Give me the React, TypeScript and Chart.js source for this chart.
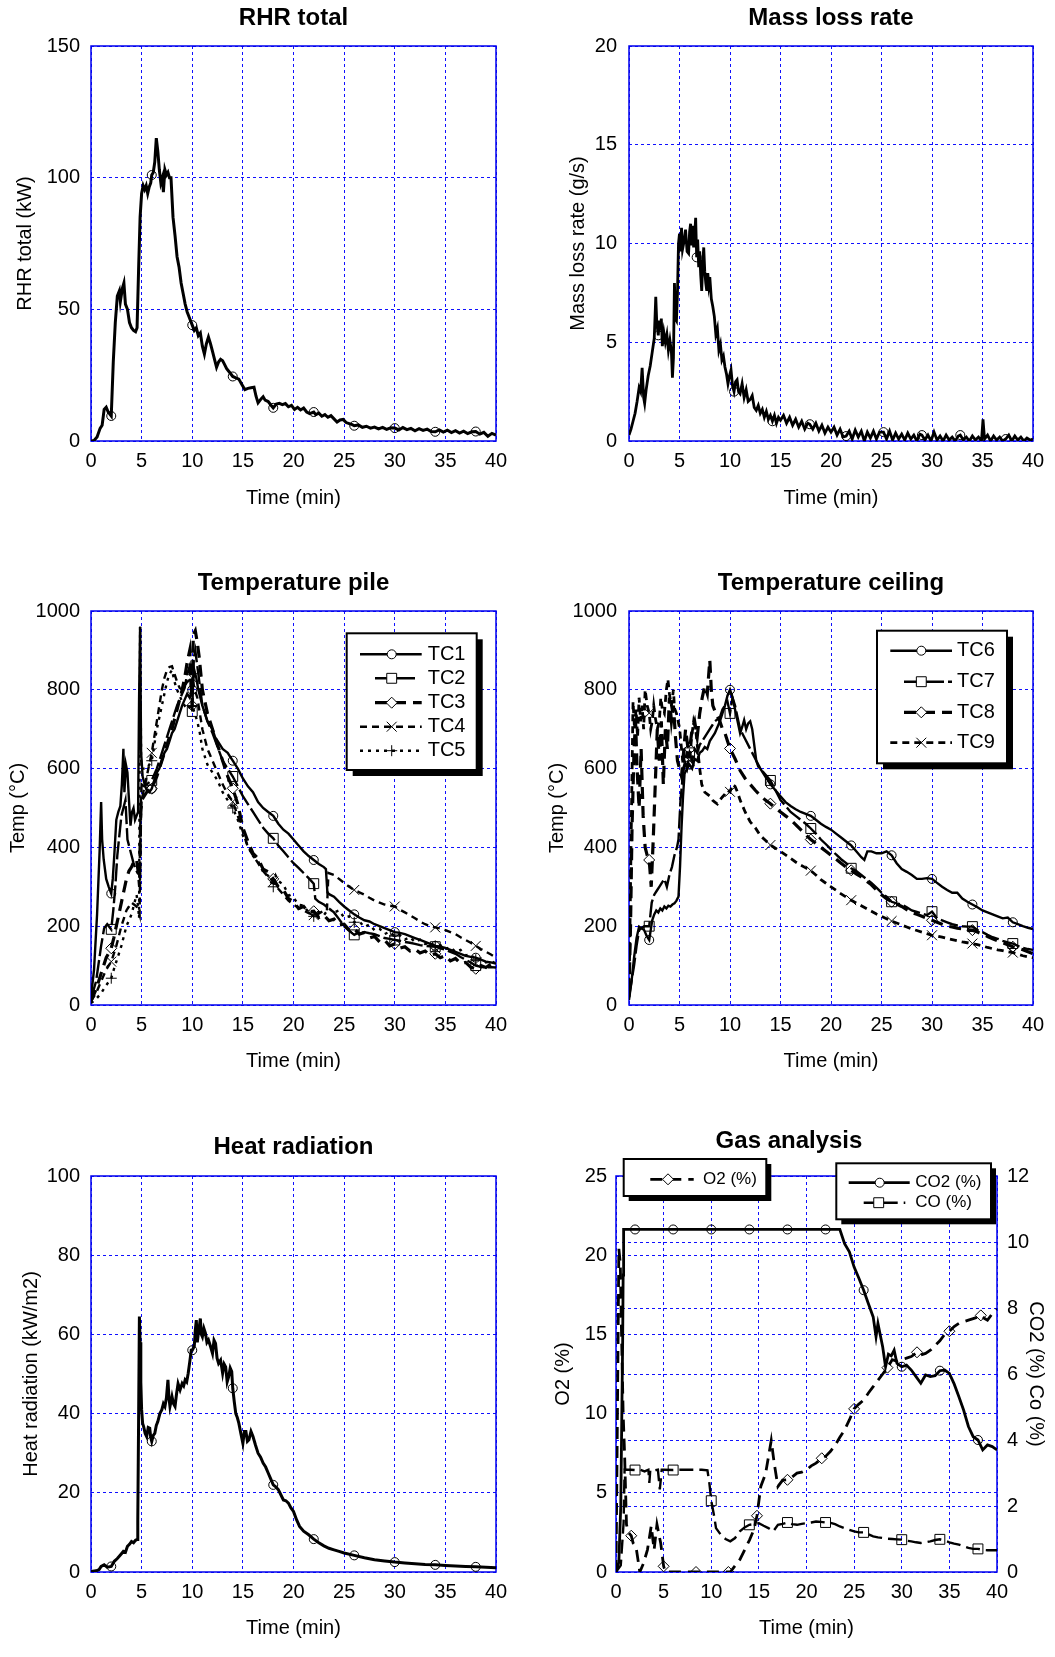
import React, { useEffect, useRef } from "react";
import { Chart, registerables } from "chart.js";
Chart.register(...registerables);

type P = [number, number];

const FONT = "'Liberation Sans', Arial, Helvetica, sans-serif";
const GRID = "#1010ff";

// ---------- tick values ----------
const TIME_TICKS = [0, 5, 10, 15, 20, 25, 30, 35, 40];
const RHR_TICKS = [0, 50, 100, 150];
const MLR_TICKS = [0, 5, 10, 15, 20];
const TEMP_TICKS = [0, 200, 400, 600, 800, 1000];
const HR_TICKS = [0, 20, 40, 60, 80, 100];
const O2_TICKS = [0, 5, 10, 15, 20, 25];
const CO2_TICKS = [0, 2, 4, 6, 8, 10, 12];

// ---------- marker times ----------
const MARKS_4MIN = [2, 6, 10, 14, 18, 22, 26, 30, 34, 38];
const MLR_MARKS = [2.9, 6.7, 10.4, 14.2, 17.9, 21.5, 25.2, 29, 32.8, 37.3];
const O2_MARKS = [1.6, 5, 8.4, 11.8, 14.8, 18, 21.6, 25, 28.5, 31.6, 35, 38.3];

// ---------- RHR total (kW) ----------
const RHR: P[] = [[0,0],[0.3,0.2],[0.6,1.5],[0.9,4.8],[1.1,6],[1.3,12],[1.5,12.8],[1.7,11],[2,9.5],[2.2,30],[2.4,45],[2.6,55],[2.8,57],[2.9,53],[3.1,58],[3.25,60],[3.4,52],[3.6,50],[3.8,45],[4,43],[4.2,42],[4.4,41.5],[4.55,43],[4.7,65],[4.85,85],[5,94],[5.15,97],[5.3,95.5],[5.45,97],[5.6,94],[5.75,96.5],[5.9,98],[6,101],[6.15,102],[6.3,106],[6.45,115],[6.6,110],[6.75,103],[6.9,98],[7.05,100],[7.15,94.5],[7.3,103],[7.45,101],[7.6,102],[7.75,100],[7.9,100],[8.1,85],[8.3,78],[8.5,70],[8.7,66],[8.9,60],[9.1,56],[9.3,52],[9.5,49],[9.7,47],[10,44],[10.2,42],[10.4,43],[10.6,40],[10.8,41],[11,36],[11.2,33],[11.4,37],[11.6,39.5],[11.8,37],[12,34],[12.2,31],[12.4,28],[12.6,30],[12.8,31],[13,30.5],[13.2,29],[13.4,27.5],[13.7,26],[14,24.5],[14.3,24],[14.6,23.5],[14.9,21.5],[15.2,19.5],[15.5,20],[15.8,20.2],[16.1,20.4],[16.3,17],[16.5,14.5],[16.8,16],[17,16.8],[17.2,15.5],[17.5,15],[17.8,13.5],[18,12.6],[18.3,14],[18.6,14.3],[18.9,13.8],[19.2,14.2],[19.5,13],[19.8,13.5],[20.1,12],[20.4,12.8],[20.7,11.8],[21,12.5],[21.3,11],[21.6,10.4],[22,11],[22.2,10],[22.5,10.6],[22.8,9.4],[23.1,10],[23.4,9],[23.7,9.6],[24,8.4],[24.3,7.2],[24.6,8],[24.9,8.2],[25.2,7],[25.5,6.6],[25.8,6.2],[26,5.8],[26.4,6.1],[26.8,5.2],[27.2,5.6],[27.6,4.9],[28,5.3],[28.4,4.6],[28.8,5.2],[29.2,4.4],[29.6,5],[30,4.9],[30.4,4.2],[30.8,5.1],[31.2,4.3],[31.6,4.8],[32,3.9],[32.4,4.7],[32.8,4],[33.2,4.5],[33.6,3.6],[34,3.5],[34.4,4.2],[34.8,3.4],[35.2,4.1],[35.6,3.2],[36,3.9],[36.4,3],[36.8,3.7],[37.2,2.8],[37.6,3.5],[38,3.6],[38.4,2.6],[38.8,3.3],[39.2,1.8],[39.6,2.9],[40,2.2]];

// ---------- Mass loss rate (g/s) ----------
const MLR: P[] = [[0,0.3],[0.2,0.6],[0.4,1.0],[0.6,1.4],[0.8,2.0],[1,2.7],[1.15,2.5],[1.3,3.7],[1.45,2.2],[1.55,1.9],[1.7,2.6],[1.9,3.3],[2.1,3.8],[2.3,4.5],[2.5,5.2],[2.65,7.3],[2.75,6.0],[2.9,5.35],[3.0,6.1],[3.1,5.6],[3.2,6.2],[3.3,4.8],[3.45,5.5],[3.6,5.0],[3.75,5.4],[3.9,4.6],[4.05,5.1],[4.2,4.5],[4.3,3.2],[4.4,4.2],[4.5,8.0],[4.6,6.2],[4.7,6.1],[4.8,7.5],[4.9,10.0],[5.0,10.5],[5.1,9.6],[5.2,10.8],[5.3,9.7],[5.45,10.1],[5.6,10.7],[5.75,9.6],[5.9,9.5],[6.0,10.6],[6.1,11.0],[6.2,9.9],[6.3,10.9],[6.4,9.8],[6.5,10.4],[6.6,11.3],[6.7,9.3],[6.8,10.2],[6.9,8.8],[7.0,9.6],[7.1,8.4],[7.2,7.6],[7.3,9.0],[7.4,9.8],[7.5,8.6],[7.6,8.0],[7.7,7.6],[7.8,8.5],[7.9,7.9],[8.0,8.3],[8.15,7.2],[8.3,6.8],[8.45,6.3],[8.6,5.4],[8.75,5.7],[8.9,4.6],[9.05,4.9],[9.2,4.1],[9.35,4.3],[9.5,3.75],[9.65,3.4],[9.8,2.9],[9.95,3.3],[10.1,3.6],[10.25,2.8],[10.4,2.5],[10.55,3.0],[10.7,3.1],[10.85,2.5],[11,2.4],[11.2,2.9],[11.4,2.2],[11.6,2.6],[11.8,2.0],[12,2.1],[12.2,2.3],[12.4,1.7],[12.6,1.55],[12.8,1.8],[13,1.4],[13.2,1.6],[13.4,1.2],[13.6,1.5],[13.8,1.1],[14,1.3],[14.2,1.0],[14.4,1.3],[14.6,0.9],[14.8,1.2],[15,1.05],[15.3,1.3],[15.6,0.9],[15.9,1.2],[16.2,0.8],[16.5,1.1],[16.8,0.7],[17.1,1.0],[17.4,0.6],[17.7,0.9],[17.9,0.85],[18.2,0.6],[18.5,0.9],[18.8,0.5],[19.1,0.8],[19.4,0.4],[19.7,0.7],[20,0.45],[20.3,0.7],[20.6,0.3],[20.9,0.6],[21.2,0.2],[21.5,0.25],[21.8,0.5],[22.1,0.1],[22.4,0.55],[22.7,0.2],[23,0.5],[23.3,0.0],[23.6,0.45],[23.9,0.15],[24.2,0.5],[24.5,0.1],[24.8,0.45],[25.2,0.45],[25.5,0.1],[25.8,0.5],[26.1,0.05],[26.4,0.4],[26.7,0.1],[27,0.35],[27.3,0.05],[27.6,0.4],[27.9,0.1],[28.2,0.3],[28.5,0.0],[28.8,0.35],[29,0.3],[29.3,0.05],[29.6,0.3],[29.9,0.0],[30.2,0.45],[30.5,0.05],[30.8,0.25],[31.1,0.0],[31.4,0.3],[31.7,0.05],[32,0.2],[32.3,0.0],[32.6,0.25],[32.8,0.3],[33.1,0.05],[33.4,0.2],[33.7,0.0],[34,0.25],[34.3,0.05],[34.6,0.2],[34.9,0.0],[35.05,1.1],[35.2,0.1],[35.5,0.3],[35.8,0.0],[36.1,0.25],[36.4,0.05],[36.7,0.2],[37,0.0],[37.3,0.1],[37.6,0.3],[37.9,0.0],[38.2,0.25],[38.5,0.05],[38.8,0.2],[39.1,0.0],[39.4,0.15],[39.7,0.05],[40,0.1]];

// ---------- Temperature pile (°C) ----------
const TC1: P[] = [[0,20],[0.3,90],[0.6,230],[0.85,390],[1.0,515],[1.1,420],[1.25,370],[1.5,320],[1.75,300],[2,283],[2.15,320],[2.3,380],[2.5,470],[2.7,490],[2.9,505],[3.05,560],[3.2,650],[3.3,540],[3.45,610],[3.6,590],[3.75,520],[3.9,455],[4.05,490],[4.2,500],[4.35,470],[4.5,480],[4.65,490],[4.75,780],[4.85,960],[4.95,640],[5.1,580],[5.3,560],[5.5,545],[5.75,540],[6,549],[6.25,570],[6.5,590],[6.75,600],[7,620],[7.25,640],[7.5,650],[7.75,670],[8,690],[8.25,700],[8.5,720],[8.75,740],[9,760],[9.25,775],[9.5,790],[9.75,780],[10,800],[10.2,850],[10.4,830],[10.6,800],[10.8,780],[11,760],[11.25,740],[11.5,720],[11.75,710],[12,700],[12.25,680],[12.5,670],[12.75,660],[13,650],[13.25,645],[13.5,640],[13.75,630],[14,620],[14.5,600],[15,575],[15.5,555],[16,540],[16.5,515],[17,500],[17.5,490],[18,480],[18.5,460],[19,445],[19.5,435],[20,420],[20.5,405],[21,390],[21.5,378],[22,368],[22.5,358],[23,350],[23.2,345],[23.35,285],[23.6,280],[24,275],[24.5,262],[25,250],[25.5,240],[26,230],[26.5,222],[27,215],[27.5,212],[28,205],[28.5,200],[29,195],[29.5,190],[30,185],[30.5,183],[31,180],[31.5,175],[32,170],[32.5,165],[33,160],[33.5,155],[34,150],[34.5,148],[35,145],[35.5,140],[36,135],[36.5,130],[37,125],[37.5,122],[38,120],[38.5,115],[39,110],[39.5,108],[40,105]];
const TC2: P[] = [[0,15],[0.5,60],[1,150],[1.3,195],[1.6,205],[2,192],[2.2,240],[2.4,300],[2.6,380],[2.8,430],[3,480],[3.2,500],[3.4,520],[3.6,420],[3.8,400],[4,380],[4.2,360],[4.4,345],[4.6,335],[4.8,330],[4.9,500],[5,560],[5.25,555],[5.5,560],[5.75,565],[6,570],[6.25,585],[6.5,600],[6.75,620],[7,640],[7.25,660],[7.5,680],[7.75,700],[8,720],[8.25,740],[8.5,760],[8.75,775],[9,790],[9.25,805],[9.5,840],[9.75,860],[10,745],[10.15,880],[10.3,900],[10.5,860],[10.7,820],[11,760],[11.5,720],[12,690],[12.5,655],[13,620],[13.5,600],[14,580],[14.5,555],[15,530],[15.5,510],[16,490],[16.5,470],[17,450],[17.5,435],[18,423],[18.5,405],[19,390],[19.5,375],[20,360],[20.5,348],[21,335],[21.5,322],[22,308],[22.15,270],[22.5,262],[23,255],[23.5,245],[24,235],[24.5,218],[25,200],[25.5,188],[26,178],[26.5,185],[27,185],[27.5,182],[28,180],[28.5,175],[29,170],[29.5,168],[30,165],[30.5,163],[31,160],[31.5,158],[32,155],[32.5,152],[33,150],[33.5,149],[34,148],[34.5,144],[35,140],[35.5,135],[36,130],[36.5,122],[37,115],[37.5,108],[38,100],[38.5,97],[39,95],[39.5,96],[40,95]];
const TC3: P[] = [[0,10],[0.5,40],[1,80],[1.5,120],[2,144],[2.25,170],[2.5,200],[2.75,230],[3,260],[3.25,290],[3.5,320],[3.75,340],[4,350],[4.25,365],[4.5,370],[4.7,330],[4.8,300],[4.9,480],[5,520],[5.25,530],[5.5,540],[5.75,545],[6,549],[6.25,565],[6.5,580],[6.75,600],[7,620],[7.25,640],[7.5,660],[7.75,680],[8,700],[8.25,725],[8.5,750],[8.75,775],[9,800],[9.25,830],[9.5,870],[9.75,900],[10,760],[10.1,940],[10.3,950],[10.5,920],[10.7,880],[11,800],[11.25,770],[11.5,740],[11.75,720],[12,700],[12.5,660],[13,620],[13.5,580],[14,550],[14.5,510],[15,450],[15.5,415],[16,385],[16.5,372],[17,345],[17.5,338],[18,320],[18.5,300],[19,292],[19.5,270],[20,262],[20.5,245],[21,250],[21.5,236],[22,238],[22.5,222],[23,228],[23.5,214],[24,218],[24.5,203],[25,205],[25.5,190],[26,193],[26.5,180],[27,184],[27.5,170],[28,174],[28.5,160],[29,165],[29.5,150],[30,155],[30.5,144],[31,148],[31.5,137],[32,142],[32.5,132],[33,137],[33.5,126],[34,130],[34.5,120],[35,125],[35.5,112],[36,118],[36.5,105],[37,108],[37.5,96],[38,92],[38.5,100],[39,95],[39.5,104],[40,98]];
const TC4: P[] = [[0,10],[0.5,30],[1,60],[1.5,90],[2,110],[2.25,130],[2.5,150],[2.75,175],[3,200],[3.25,220],[3.5,240],[3.75,250],[4,260],[4.25,255],[4.5,250],[4.7,240],[4.8,230],[4.9,450],[5,520],[5.25,550],[5.5,580],[5.75,610],[6,640],[6.25,680],[6.5,720],[6.75,760],[7,800],[7.25,830],[7.5,850],[7.75,858],[8,860],[8.25,840],[8.5,820],[8.75,805],[9,800],[9.25,810],[9.5,820],[9.75,825],[10,830],[10.25,800],[10.5,780],[10.75,740],[11,700],[11.25,675],[11.5,650],[11.75,635],[12,620],[12.5,590],[13,560],[13.5,535],[14,516],[14.5,480],[15,440],[15.5,400],[16,380],[16.5,360],[17,340],[17.5,325],[18,313],[18.5,295],[19,280],[19.5,265],[20,255],[20.5,247],[21,240],[21.5,233],[22,228],[22.5,232],[23,240],[23.3,240],[23.45,335],[24,330],[24.5,320],[25,310],[25.5,300],[26,292],[26.5,286],[27,280],[27.5,272],[28,265],[28.5,260],[29,255],[29.5,252],[30,250],[30.5,242],[31,235],[31.5,228],[32,220],[32.5,212],[33,205],[33.5,200],[34,197],[34.5,194],[35,190],[35.5,185],[36,180],[36.5,172],[37,165],[37.5,158],[38,150],[38.5,142],[39,135],[39.5,128],[40,120]];
const TC5: P[] = [[0,5],[0.5,15],[1,30],[1.5,50],[2,68],[2.25,90],[2.5,110],[2.75,130],[3,150],[3.25,175],[3.5,200],[3.75,215],[4,230],[4.25,255],[4.5,280],[4.65,250],[4.75,220],[4.85,960],[4.95,620],[5.1,600],[5.5,600],[6,620],[6.25,660],[6.5,700],[6.75,730],[7,760],[7.25,790],[7.5,820],[7.75,840],[8,850],[8.25,820],[8.5,800],[8.75,785],[9,770],[9.25,760],[9.5,750],[9.75,755],[10,760],[10.25,740],[10.5,720],[10.75,690],[11,650],[11.25,630],[11.5,610],[11.75,600],[12,590],[12.5,570],[13,540],[13.5,520],[14,500],[14.5,470],[15,430],[15.5,405],[16,378],[16.5,365],[17,338],[17.5,328],[18,300],[18.25,328],[18.5,315],[19,305],[19.5,280],[20,272],[20.5,255],[21,252],[21.5,235],[22,225],[22.5,236],[23,228],[23.5,245],[24,235],[24.5,240],[25,222],[25.5,225],[26,210],[26.5,212],[27,198],[27.5,204],[28,190],[28.5,194],[29,180],[29.5,186],[30,175],[30.5,178],[31,166],[31.5,172],[32,160],[32.5,166],[33,155],[33.5,158],[34,150],[34.5,152],[35,142],[35.5,147],[36,135],[36.5,140],[37,126],[37.5,128],[38,115],[38.5,118],[39,108],[39.5,112],[40,105]];

// ---------- Temperature ceiling (°C) ----------
const TC6: P[] = [[0,13],[0.25,60],[0.5,120],[0.75,170],[1,199],[1.25,195],[1.5,190],[1.75,175],[2,165],[2.15,190],[2.3,215],[2.5,230],[2.7,240],[2.9,235],[3.1,245],[3.3,240],[3.5,250],[3.7,245],[3.9,252],[4.1,250],[4.3,255],[4.5,258],[4.7,265],[4.9,275],[5.05,350],[5.2,450],[5.35,530],[5.5,587],[5.75,600],[6,610],[6.25,600],[6.5,625],[6.75,620],[7,640],[7.25,645],[7.5,655],[7.75,650],[8,670],[8.25,680],[8.5,690],[8.75,705],[9,720],[9.25,740],[9.5,760],[9.75,785],[10,800],[10.25,780],[10.5,750],[10.75,720],[11,690],[11.2,705],[11.4,723],[11.6,700],[11.8,715],[12,720],[12.2,700],[12.4,660],[12.6,620],[12.8,605],[13,600],[13.25,590],[13.5,580],[13.75,570],[14,560],[14.5,545],[15,530],[15.5,515],[16,505],[16.5,497],[17,490],[17.5,485],[18,480],[18.5,470],[19,460],[19.5,452],[20,445],[20.5,435],[21,425],[21.5,415],[22,405],[22.5,390],[23,375],[23.3,368],[23.6,390],[24,390],[24.5,385],[25,385],[25.5,390],[26,380],[26.5,360],[27,345],[27.5,338],[28,330],[28.5,320],[29,320],[29.5,322],[30,320],[30.5,310],[31,300],[31.5,292],[32,285],[32.5,285],[33,270],[33.5,262],[34,255],[34.5,248],[35,240],[35.5,235],[36,230],[36.5,225],[37,220],[37.5,222],[38,210],[38.5,205],[39,200],[39.5,196],[40,193]];
const TC7: P[] = [[0,20],[0.25,60],[0.5,100],[0.75,150],[1,190],[1.5,200],[2,200],[2.25,260],[2.5,280],[2.75,290],[3,300],[3.25,310],[3.5,320],[3.75,300],[4,330],[4.25,350],[4.5,380],[4.75,400],[4.9,420],[5.1,520],[5.25,560],[5.5,620],[5.75,600],[6,640],[6.25,620],[6.5,650],[6.75,640],[7,660],[7.25,670],[7.5,680],[7.75,690],[8,700],[8.25,710],[8.5,720],[8.75,725],[9,730],[9.25,750],[9.5,760],[9.75,770],[10,740],[10.25,780],[10.5,760],[10.75,730],[11,700],[11.5,675],[12,650],[12.5,625],[13,600],[13.5,585],[14,570],[14.5,545],[15,520],[15.5,505],[16,490],[16.5,480],[17,470],[17.5,460],[18,448],[18.5,435],[19,420],[19.5,408],[20,395],[20.5,382],[21,370],[21.5,360],[22,347],[22.5,340],[23,330],[23.5,320],[24,310],[24.5,298],[25,285],[25.5,275],[26,262],[26.5,258],[27,255],[27.5,248],[28,240],[28.5,236],[29,232],[29.5,228],[30,237],[30.5,220],[31,215],[31.5,210],[32,205],[32.5,202],[33,200],[33.5,199],[34,199],[34.5,190],[35,185],[35.5,178],[36,172],[36.5,168],[37,163],[37.5,159],[38,156],[38.5,150],[39,145],[39.5,142],[40,140]];
const TC8: P[] = [[0,30],[0.15,200],[0.3,450],[0.5,650],[0.65,720],[0.8,600],[1,500],[1.2,650],[1.4,480],[1.6,400],[1.8,380],[2,368],[2.2,300],[2.4,420],[2.6,560],[2.8,700],[3,620],[3.2,720],[3.4,560],[3.6,700],[3.8,650],[4,780],[4.2,720],[4.4,760],[4.6,680],[4.8,620],[5,600],[5.2,580],[5.4,640],[5.6,700],[5.8,660],[6,650],[6.25,700],[6.5,720],[6.75,680],[7,740],[7.25,780],[7.5,810],[7.75,790],[8,875],[8.15,800],[8.3,760],[8.6,740],[9,720],[9.25,700],[9.5,690],[9.75,670],[10,651],[10.5,625],[11,595],[11.5,575],[12,560],[12.5,545],[13,532],[13.5,520],[14,511],[14.5,500],[15,490],[15.5,480],[16,470],[16.5,458],[17,445],[17.5,432],[18,420],[18.5,410],[19,400],[19.5,390],[20,380],[20.5,370],[21,360],[21.5,350],[22,342],[22.5,333],[23,325],[23.5,315],[24,305],[24.5,292],[25,280],[25.5,270],[26,262],[26.5,256],[27,250],[27.5,242],[28,235],[28.5,230],[29,225],[29.5,220],[30,215],[30.5,210],[31,205],[31.5,200],[32,198],[32.5,195],[33,193],[33.5,191],[34,190],[34.5,185],[35,180],[35.5,174],[36,168],[36.5,163],[37,158],[37.5,153],[38,148],[38.5,144],[39,140],[39.5,135],[40,130]];
const TC9: P[] = [[0,20],[0.1,200],[0.2,400],[0.4,770],[0.55,700],[0.7,750],[0.85,680],[1,780],[1.15,720],[1.3,760],[1.45,700],[1.6,800],[1.8,760],[2,741],[2.15,700],[2.3,720],[2.45,760],[2.6,730],[2.8,700],[3,720],[3.15,780],[3.3,750],[3.5,740],[3.7,800],[3.85,827],[4,790],[4.2,760],[4.4,800],[4.5,753],[4.7,740],[5,704],[5.2,650],[5.4,600],[5.6,620],[5.8,650],[6,620],[6.2,680],[6.4,720],[6.6,700],[6.8,650],[7,600],[7.2,560],[7.5,540],[7.75,535],[8,530],[8.25,520],[8.5,515],[8.75,510],[9,520],[9.25,528],[9.5,535],[9.75,545],[10,541],[10.25,560],[10.5,555],[10.75,540],[11,520],[11.5,490],[12,465],[12.5,450],[13,430],[13.5,418],[14,406],[14.5,398],[15,390],[15.5,381],[16,372],[16.5,363],[17,355],[17.5,348],[18,341],[18.5,330],[19,318],[19.5,309],[20,300],[20.5,291],[21,282],[21.5,274],[22,266],[22.5,259],[23,252],[23.5,245],[24,238],[24.5,231],[25,225],[25.5,219],[26,213],[26.5,208],[27,203],[27.5,198],[28,193],[28.5,189],[29,185],[29.5,181],[30,177],[30.5,175],[31,172],[31.5,169],[32,166],[32.5,163],[33,160],[33.5,158],[34,156],[34.5,153],[35,150],[35.5,146],[36,143],[36.5,140],[37,138],[37.5,135],[38,133],[38.5,129],[39,125],[39.5,122],[40,120]];

// ---------- Heat radiation (kW/m2) ----------
const HR: P[] = [[0,0.1],[0.5,0.3],[0.8,0.6],[1,1.4],[1.3,1.8],[1.6,1.2],[2,1.4],[2.3,2.7],[2.6,3.4],[2.9,4.3],[3.2,5.2],[3.4,5.0],[3.6,6.5],[3.8,7.0],[4,7.7],[4.2,7.4],[4.4,8.0],[4.55,8.2],[4.62,13],[4.7,38],[4.78,64.5],[4.85,58],[4.92,48],[5,41],[5.1,37.5],[5.2,36.7],[5.35,35],[5.5,34.2],[5.65,36.5],[5.8,36.3],[5.9,34],[6,33],[6.15,34.5],[6.3,35],[6.45,37],[6.6,38],[6.8,40],[7,41],[7.15,42.5],[7.3,41.8],[7.45,44],[7.6,48.5],[7.7,44],[7.8,41.8],[7.9,43],[8,44.3],[8.15,42.5],[8.3,41.8],[8.45,45],[8.6,47.6],[8.8,46],[9,47.6],[9.15,47],[9.3,48.5],[9.45,48],[9.6,50.2],[9.75,53],[9.9,56],[10,56],[10.2,57],[10.3,61],[10.4,63.6],[10.5,58],[10.6,60.3],[10.7,62],[10.8,64],[10.9,60],[11,59.4],[11.15,61.5],[11.3,60.3],[11.45,58],[11.6,58.6],[11.8,57],[12,55.2],[12.15,58.5],[12.3,57.7],[12.45,54],[12.6,52.7],[12.8,53.5],[13,50.2],[13.15,52.5],[13.3,51.8],[13.45,48],[13.6,49.3],[13.75,51.5],[13.9,50.6],[14,46.4],[14.15,43],[14.3,40],[14.45,39],[14.6,37.6],[14.8,35],[15,32.5],[15.15,35.5],[15.3,35.5],[15.45,33],[15.6,33.4],[15.8,35.5],[16,34.2],[16.25,32],[16.5,30],[16.75,29],[17,27.5],[17.25,26.5],[17.5,25],[17.75,23.5],[18,22],[18.25,21.5],[18.5,20.8],[18.75,19.5],[19,18.2],[19.25,18],[19.5,17.4],[19.75,16.2],[20,15.3],[20.3,13.2],[20.6,11.5],[21,10.3],[21.5,9.4],[22,8.3],[22.5,7.4],[23,6.6],[23.5,6.0],[24,5.6],[24.5,5.2],[25,4.8],[26,4.2],[27,3.6],[28,3.1],[29,2.8],[30,2.5],[31,2.3],[32,2.1],[33,1.9],[34,1.8],[35,1.65],[36,1.5],[37,1.4],[38,1.3],[39,1.2],[40,1.1]];

// ---------- Gas analysis ----------
const O2: P[] = [[0,0],[0.15,10],[0.3,20.4],[0.45,19.5],[0.55,16],[0.65,13],[0.75,10],[0.9,7.5],[1.1,3],[1.3,2.5],[1.6,2.29],[1.8,1.83],[2.1,1.6],[2.5,0],[2.9,0.57],[3.3,1.4],[3.7,2.9],[4,1.4],[4.3,3.0],[4.7,1.8],[5,0.36],[5.2,0],[8.4,0],[10,0],[11.8,0],[12,0],[13,0.78],[14,2.0],[14.5,2.7],[14.8,3.55],[15.2,5.4],[15.7,6.2],[16.3,8.3],[16.6,6.9],[17,5.4],[17.5,5.8],[18,5.82],[18.5,6.0],[19,6.24],[19.5,6.3],[20,6.45],[20.5,6.7],[21,6.87],[21.6,7.18],[22,7.3],[22.5,7.6],[23,8.0],[23.5,8.5],[24,8.97],[24.5,9.6],[25,10.3],[25.5,10.6],[26,10.86],[26.5,11.3],[27,11.7],[27.5,12.1],[28,12.5],[28.5,12.9],[29,13.4],[29.5,13.3],[30,13.4],[30.5,13.5],[31,13.6],[31.6,13.87],[32,13.7],[32.5,13.8],[33,14.0],[33.5,14.3],[34,14.6],[34.5,15.0],[35,15.2],[35.5,15.5],[36,15.7],[36.5,15.8],[37,15.9],[37.5,16.0],[38,16.1],[38.3,16.2],[38.7,16.0],[39,15.9],[39.5,16.3],[40,16.6]];
const CO2: P[] = [[0,0],[0.3,0.3],[0.5,2.0],[0.6,4.5],[0.7,7.0],[0.75,9.0],[0.8,10.38],[2,10.38],[6,10.38],[10,10.38],[14,10.38],[18,10.38],[22,10.38],[23.5,10.38],[24,9.95],[24.5,9.7],[25,9.24],[25.5,8.9],[26,8.54],[26.5,8.13],[27,7.73],[27.3,7.13],[27.5,7.53],[28,6.82],[28.3,6.22],[28.6,6.6],[28.9,6.55],[29.2,6.72],[29.5,6.32],[30,6.22],[30.5,6.27],[31,6.12],[31.5,5.92],[32,5.72],[32.5,5.97],[33,5.92],[33.5,5.95],[34,6.1],[34.5,6.12],[35,6.02],[35.5,5.7],[36,5.31],[36.5,4.9],[37,4.41],[37.5,4.1],[38,4.0],[38.5,3.7],[39,3.85],[39.5,3.8],[40,3.7]];
const CO: P[] = [[0,0],[0.5,0.2],[0.8,1.5],[0.9,3.1],[1.5,3.1],[2,3.09],[2.5,3.1],[3,3.05],[3.4,3.1],[3.5,2.7],[3.6,3.1],[4,3.08],[4.4,3.1],[4.6,2.5],[4.8,3.1],[5,3.1],[6,3.09],[7,3.1],[8,3.1],[9,3.1],[9.6,3.08],[9.8,2.7],[10,2.16],[10.3,1.7],[10.5,1.33],[11,1.13],[11.5,1.0],[12,0.93],[12.5,1.03],[13,1.23],[13.5,1.35],[14,1.43],[14.5,1.45],[15,1.48],[15.5,1.4],[16,1.33],[16.5,1.23],[17,1.43],[17.5,1.46],[18,1.5],[18.5,1.45],[19,1.43],[19.5,1.46],[20,1.48],[20.5,1.5],[21,1.53],[21.5,1.52],[22,1.5],[22.5,1.49],[23,1.45],[23.5,1.38],[24,1.33],[24.5,1.28],[25,1.23],[25.5,1.2],[26,1.2],[26.5,1.14],[27,1.08],[27.5,1.05],[28,1.03],[28.5,1.01],[29,1.0],[29.5,0.99],[30,0.98],[30.5,0.95],[31,0.93],[31.5,0.9],[32,0.88],[32.5,0.9],[33,0.93],[33.5,0.97],[34,0.99],[34.5,0.95],[35,0.9],[35.5,0.86],[36,0.83],[36.5,0.78],[37,0.73],[37.5,0.7],[38,0.7],[38.5,0.67],[39,0.66],[39.5,0.66],[40,0.66]];

// ---------- rendering ----------
interface DS { data: P[]; marks: number[]; axis?: string; width: number; dash: number[]; marker: string; r: number; }
interface LegItem { ds: number; label: string; y: number; x1: number; x2: number; mx: number; tx: number; }
interface Legend { rect: [number, number, number, number]; shadow: number; font: number; items: LegItem[]; }
interface Spec {
  box: [number, number, number, number];
  plot: [number, number, number, number];
  title: string; titleX?: number; titleY: number;
  xTitleY: number;
  yTitle: string; yTitleX: number; yTicks: number[]; yPad: number;
  y2?: { title: string; titleX: number; ticks: number[]; pad: number };
  datasets: DS[];
  legends?: Legend[];
}

function drawMarker(ctx: CanvasRenderingContext2D, style: string, x: number, y: number, r: number) {
  ctx.beginPath();
  if (style === "circle") ctx.arc(x, y, r, 0, Math.PI * 2);
  else if (style === "rect") { const h = r * Math.SQRT1_2; ctx.rect(x - h, y - h, 2 * h, 2 * h); }
  else if (style === "rectRot") { ctx.moveTo(x, y - r); ctx.lineTo(x + r, y); ctx.lineTo(x, y + r); ctx.lineTo(x - r, y); ctx.closePath(); }
  else if (style === "crossRot") { const h = r * Math.SQRT1_2; ctx.moveTo(x - h, y - h); ctx.lineTo(x + h, y + h); ctx.moveTo(x + h, y - h); ctx.lineTo(x - h, y + h); }
  else if (style === "cross") { ctx.moveTo(x - r, y); ctx.lineTo(x + r, y); ctx.moveTo(x, y - r); ctx.lineTo(x, y + r); }
  if (style !== "crossRot" && style !== "cross") { ctx.fillStyle = "#fff"; ctx.fill(); }
  ctx.setLineDash([]);
  ctx.lineWidth = 1;
  ctx.strokeStyle = "#000";
  ctx.stroke();
}

function buildChart(canvas: HTMLCanvasElement, s: Spec): Chart {
  const [cl, ct, cw, ch] = s.box;
  const [pl, pt, pr, pb] = s.plot;
  const leftW = pl - cl;
  const rightW = cl + cw - pr;
  const bottomH = ct + ch - pb;
  const tickFont = { family: FONT, size: 20 };
  const setTicks = (vals: number[]) => (sc: any) => { sc.ticks = vals.map((v) => ({ value: v })); };
  const plain = (v: any) => String(v);
  const grid = { color: GRID, lineWidth: 1, drawTicks: false };
  const border = { display: false, dash: [3, 3] };

  const scales: any = {
    x: {
      type: "linear", min: 0, max: 40,
      afterBuildTicks: setTicks(TIME_TICKS),
      ticks: { font: tickFont, color: "#000", padding: 8.5, maxRotation: 0, autoSkip: false, callback: plain },
      grid, border,
      title: { display: true, text: "Time (min)", color: "#000", font: { family: FONT, size: 20 }, padding: { top: 0, bottom: ct + ch - s.xTitleY - 12 } },
      afterFit: (sc: any) => { sc.height = bottomH; },
    },
    y: {
      type: "linear", position: "left", min: s.yTicks[0], max: s.yTicks[s.yTicks.length - 1],
      afterBuildTicks: setTicks(s.yTicks),
      ticks: { font: tickFont, color: "#000", padding: s.yPad, autoSkip: false, callback: plain },
      grid, border,
      title: { display: true, text: s.yTitle, color: "#000", font: { family: FONT, size: 20 }, padding: { top: s.yTitleX - cl - 12, bottom: 0 } },
      afterFit: (sc: any) => { sc.width = leftW; },
    },
  };
  if (s.y2) {
    const y2 = s.y2;
    scales.y2 = {
      type: "linear", position: "right", min: y2.ticks[0], max: y2.ticks[y2.ticks.length - 1],
      afterBuildTicks: setTicks(y2.ticks),
      ticks: { font: tickFont, color: "#000", padding: y2.pad, autoSkip: false, callback: plain },
      grid, border,
      title: { display: true, text: y2.title, color: "#000", font: { family: FONT, size: 20 }, padding: { top: cl + cw - y2.titleX - 12, bottom: 0 } },
      afterFit: (sc: any) => { sc.width = rightW; },
    };
  }

  const deco = {
    id: "deco",
    beforeDatasetsDraw(chart: any) {
      const { ctx, chartArea: a } = chart;
      ctx.save();
      ctx.setLineDash([]);
      ctx.strokeStyle = "#0000ee";
      ctx.lineWidth = 1.5;
      ctx.strokeRect(a.left, a.top, a.right - a.left, a.bottom - a.top);
      ctx.restore();
    },
    afterDraw(chart: any) {
      const { ctx, chartArea: a } = chart;
      ctx.save();
      ctx.fillStyle = "#000";
      ctx.font = `bold 24px ${FONT}`;
      ctx.textAlign = "center";
      ctx.textBaseline = "middle";
      const tx = s.titleX !== undefined ? s.titleX - cl : (a.left + a.right) / 2;
      ctx.fillText(s.title, tx, s.titleY - ct);
      for (const lg of s.legends || []) {
        const [lx, ly, lw, lh] = lg.rect;
        const x = lx - cl, y = ly - ct;
        ctx.setLineDash([]);
        ctx.fillStyle = "#000";
        ctx.fillRect(x + lg.shadow, y + lg.shadow, lw, lh);
        ctx.fillStyle = "#fff";
        ctx.fillRect(x, y, lw, lh);
        ctx.strokeStyle = "#000";
        ctx.lineWidth = 2;
        ctx.strokeRect(x, y, lw, lh);
        for (const it of lg.items) {
          const d = s.datasets[it.ds];
          const yy = it.y - ct;
          ctx.beginPath();
          ctx.setLineDash(d.dash);
          ctx.lineWidth = d.width;
          ctx.strokeStyle = "#000";
          ctx.moveTo(it.x1 - cl, yy);
          ctx.lineTo(it.x2 - cl, yy);
          ctx.stroke();
          drawMarker(ctx, d.marker, it.mx - cl, yy, d.r);
          ctx.fillStyle = "#000";
          ctx.font = `${lg.font}px ${FONT}`;
          ctx.textAlign = "left";
          ctx.textBaseline = "middle";
          ctx.fillText(it.label, it.tx - cl, yy);
        }
      }
      ctx.restore();
    },
  };

  return new Chart(canvas, {
    type: "line",
    data: {
      datasets: s.datasets.map((d) => ({
        data: d.data.map(([x, y]) => ({ x, y })),
        yAxisID: d.axis || "y",
        borderColor: "#000",
        borderWidth: d.width,
        borderDash: d.dash,
        tension: 0,
        fill: false,
        pointStyle: d.marker,
        pointRadius: (c: any) => (c.raw && d.marks.includes(c.raw.x) ? d.r : 0),
        pointBorderColor: "#000",
        pointBorderWidth: 1,
        pointBackgroundColor: "rgba(0,0,0,0)",
      })),
    } as any,
    options: {
      animation: false,
      responsive: false,
      devicePixelRatio: 1,
      events: [],
      layout: { padding: { left: 0, right: s.y2 ? 0 : rightW, top: pt - ct, bottom: 0 } },
      plugins: { legend: { display: false }, tooltip: { enabled: false }, title: { display: false } },
      scales,
    } as any,
    plugins: [deco],
  });
}

const SPECS: Spec[] = [
  {
    box: [0, 0, 527, 530], plot: [91, 46, 496, 441],
    title: "RHR total", titleY: 18.3, xTitleY: 498,
    yTitle: "RHR total (kW)", yTitleX: 25, yTicks: RHR_TICKS, yPad: 11,
    datasets: [{ data: RHR, marks: MARKS_4MIN, width: 3, dash: [], marker: "circle", r: 4.5 }],
  },
  {
    box: [527, 0, 528, 530], plot: [629, 46, 1033, 441],
    title: "Mass loss rate", titleY: 18.3, xTitleY: 498,
    yTitle: "Mass loss rate (g/s)", yTitleX: 578.7, yTicks: MLR_TICKS, yPad: 12,
    datasets: [{ data: MLR, marks: MLR_MARKS, width: 2.8, dash: [], marker: "circle", r: 4.5 }],
  },
  {
    box: [0, 530, 527, 565], plot: [91, 611, 496, 1005],
    title: "Temperature pile", titleY: 583.3, xTitleY: 1061.7,
    yTitle: "Temp (°C)", yTitleX: 18.3, yTicks: TEMP_TICKS, yPad: 11,
    datasets: [
      { data: TC1, marks: MARKS_4MIN, width: 2.4, dash: [], marker: "circle", r: 4.5 },
      { data: TC2, marks: MARKS_4MIN, width: 2.4, dash: [18, 4], marker: "rect", r: 7 },
      { data: TC3, marks: MARKS_4MIN, width: 3.2, dash: [12, 7], marker: "rectRot", r: 5.5 },
      { data: TC4, marks: MARKS_4MIN, width: 2.4, dash: [7, 5], marker: "crossRot", r: 7 },
      { data: TC5, marks: MARKS_4MIN, width: 2.4, dash: [3, 5], marker: "cross", r: 5.5 },
    ],
    legends: [{
      rect: [346.7, 633.3, 130, 136.7], shadow: 6, font: 20,
      items: [
        { ds: 0, label: "TC1", y: 654.3, x1: 360, x2: 421.7, mx: 391.7, tx: 427.7 },
        { ds: 1, label: "TC2", y: 678.3, x1: 375, x2: 418.3, mx: 391.7, tx: 427.7 },
        { ds: 2, label: "TC3", y: 702.7, x1: 375, x2: 421.7, mx: 391.7, tx: 427.7 },
        { ds: 3, label: "TC4", y: 726.7, x1: 360, x2: 421.7, mx: 391.7, tx: 427.7 },
        { ds: 4, label: "TC5", y: 750.7, x1: 360, x2: 421.7, mx: 391.7, tx: 427.7 },
      ],
    }],
  },
  {
    box: [527, 530, 528, 565], plot: [629, 611, 1033, 1005],
    title: "Temperature ceiling", titleY: 583.3, xTitleY: 1061.7,
    yTitle: "Temp (°C)", yTitleX: 557, yTicks: TEMP_TICKS, yPad: 12,
    datasets: [
      { data: TC6, marks: MARKS_4MIN, width: 2.4, dash: [], marker: "circle", r: 4.5 },
      { data: TC7, marks: MARKS_4MIN, width: 2.4, dash: [18, 4], marker: "rect", r: 7 },
      { data: TC8, marks: MARKS_4MIN, width: 3.2, dash: [12, 7], marker: "rectRot", r: 5.5 },
      { data: TC9, marks: MARKS_4MIN, width: 2.8, dash: [7, 5], marker: "crossRot", r: 7 },
    ],
    legends: [{
      rect: [877, 630.7, 130, 132.6], shadow: 6, font: 20,
      items: [
        { ds: 0, label: "TC6", y: 650.7, x1: 890.3, x2: 952, mx: 921.3, tx: 957 },
        { ds: 1, label: "TC7", y: 681.7, x1: 904, x2: 952, mx: 921.3, tx: 957 },
        { ds: 2, label: "TC8", y: 712.3, x1: 904, x2: 952, mx: 921.3, tx: 957 },
        { ds: 3, label: "TC9", y: 742.7, x1: 890.3, x2: 952, mx: 921.3, tx: 957 },
      ],
    }],
  },
  {
    box: [0, 1095, 527, 562], plot: [91, 1176, 496, 1572],
    title: "Heat radiation", titleY: 1147.3, xTitleY: 1628.3,
    yTitle: "Heat radiation (kW/m2)", yTitleX: 31.7, yTicks: HR_TICKS, yPad: 11,
    datasets: [{ data: HR, marks: MARKS_4MIN, width: 3, dash: [], marker: "circle", r: 4.5 }],
  },
  {
    box: [527, 1095, 528, 562], plot: [616, 1176, 997, 1572],
    title: "Gas analysis", titleX: 789, titleY: 1141.7, xTitleY: 1628.3,
    yTitle: "O2 (%)", yTitleX: 563.7, yTicks: O2_TICKS, yPad: 9,
    y2: { title: "CO2 (%) Co (%)", titleX: 1035.3, ticks: CO2_TICKS, pad: 10 },
    datasets: [
      { data: O2, marks: O2_MARKS, axis: "y", width: 2.8, dash: [12, 7], marker: "rectRot", r: 5.5 },
      { data: CO2, marks: MARKS_4MIN, axis: "y2", width: 2.8, dash: [], marker: "circle", r: 4.5 },
      { data: CO, marks: MARKS_4MIN, axis: "y2", width: 2.4, dash: [14, 6], marker: "rect", r: 7 },
    ],
    legends: [
      {
        rect: [623.7, 1159, 142.6, 37], shadow: 5, font: 17,
        items: [{ ds: 0, label: "O2 (%)", y: 1179.3, x1: 650.3, x2: 693.7, mx: 668, tx: 703 }],
      },
      {
        rect: [836.3, 1163.3, 154.7, 56], shadow: 5, font: 17,
        items: [
          { ds: 1, label: "CO2 (%)", y: 1182.7, x1: 848.7, x2: 909.7, mx: 879.7, tx: 915.3 },
          { ds: 2, label: "CO (%)", y: 1202.7, x1: 863.7, x2: 905.3, mx: 878.7, tx: 915.3 },
        ],
      },
    ],
  },
];

function Panel({ spec }: { spec: Spec }) {
  const ref = useRef<HTMLCanvasElement>(null);
  useEffect(() => {
    if (!ref.current) return;
    const chart = buildChart(ref.current, spec);
    return () => chart.destroy();
  }, [spec]);
  const [l, t, w, h] = spec.box;
  return (
    <canvas
      ref={ref}
      width={w}
      height={h}
      style={{ position: "absolute", left: l, top: t, width: w, height: h }}
    />
  );
}

export default function App() {
  Chart.defaults.font.family = FONT;
  Chart.defaults.color = "#000";
  return (
    <div style={{ position: "absolute", left: 0, top: 0, width: 1055, height: 1657, background: "#fff", overflow: "hidden" }}>
      {SPECS.map((s, i) => (
        <Panel key={i} spec={s} />
      ))}
    </div>
  );
}
